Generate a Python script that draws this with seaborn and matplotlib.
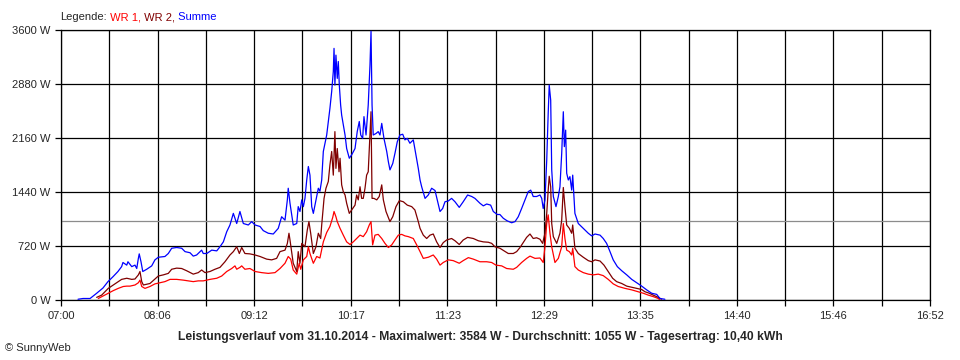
import numpy as np
import pandas as pd
import matplotlib
matplotlib.use("Agg")
import matplotlib.pyplot as plt
import seaborn as sns

# time in minutes after 07:00, power in W
summe_t = [11.6, 15.0, 19.8, 24.3, 28.6, 32.0, 35.4, 38.8, 41.3, 42.2,
           44.8, 45.6, 48.2, 50.4, 51.6, 52.7, 53.3, 54.5, 55.7, 58.4,
           61.8, 64.0, 66.3, 70.8, 73.1, 75.4, 78.8, 82.2, 84.5, 87.9,
           90.1, 92.4, 95.8, 96.9, 99.3, 102.7, 106.1, 108.3, 110.6, 112.9,
           115.1, 117.4, 119.7, 121.9, 124.2, 127.6, 129.9, 132.2, 135.6, 137.8,
           141.2, 144.6, 148.0, 150.3, 152.6, 154.2, 154.8, 156.0, 158.2, 160.6,
           161.6, 162.8, 164.0, 165.1, 166.2, 167.4, 168.5, 169.6, 170.8, 171.9,
           173.7, 175.3, 176.4, 177.6, 178.7, 181.0, 182.1, 183.2, 184.4, 185.5,
           186.0, 186.6, 187.3, 188.2, 188.9, 189.6, 190.5, 191.2, 192.3, 193.5,
           194.6, 196.4, 198.0, 200.3, 201.8, 203.2, 204.2, 205.5, 206.4, 207.8,
           209.3, 210.5, 211.2, 211.9, 212.7, 214.6, 216.1, 217.3, 218.5, 220.0,
           221.9, 223.0, 224.1, 226.0, 227.5, 229.1, 230.9, 232.8, 234.3, 235.9,
           237.7, 240.0, 241.8, 243.4, 244.6, 245.7, 248.0, 250.2, 252.5, 254.8,
           256.3, 258.2, 260.0, 261.6, 263.8, 266.1, 268.4, 271.3, 274.0, 277.0,
           279.8, 282.0, 285.4, 287.7, 290.0, 292.7, 294.5, 297.2, 299.0, 301.3,
           304.0, 307.0, 309.3, 311.5, 313.8, 316.1, 318.3, 320.0, 321.7, 324.0,
           326.3, 327.5, 328.5, 329.7, 330.9, 331.9, 332.6, 333.6, 334.3, 335.4,
           337.2, 338.8, 339.9, 341.1, 342.2, 342.9, 343.8, 344.5, 345.6, 346.7,
           347.9, 348.6, 350.1, 352.4, 355.8, 359.2, 361.5, 363.8, 367.2, 369.4,
           371.7, 374.0, 376.2, 379.0, 382.0, 385.4, 388.8, 392.2, 395.6, 399.0,
           402.4, 405.8, 408.0, 411.4]
summe_w = [10, 20, 20, 90, 160, 245, 310, 380, 445, 500,
           465, 510, 445, 465, 420, 555, 615, 510, 380, 410,
           455, 535, 570, 580, 620, 690, 700, 690, 645, 630,
           585, 600, 665, 620, 620, 665, 655, 710, 775, 910,
           1000, 1155, 1020, 1180, 1020, 1000, 1045, 1000, 980, 925,
           890, 880, 955, 1110, 1065, 1335, 1490, 1290, 1000, 1020,
           1245, 1180, 1335, 1245, 1355, 1600, 1780, 1665, 1245, 1155,
           1335, 1490, 1450, 1600, 1980, 2200, 2380, 2555, 2780, 3045,
           3355, 2865, 3265, 2955, 3180, 2865, 2600, 2465, 2335, 2200,
           2020, 1890, 1935, 2020, 2245, 2380, 2200, 2155, 2445, 2200,
           2600, 3135, 3584, 2600, 2200, 2220, 2245, 2200, 2355, 2155,
           1980, 1845, 1735, 1820, 1955, 2110, 2200, 2210, 2135, 2155,
           2090, 2135, 1935, 1755, 1600, 1510, 1355, 1400, 1490, 1460,
           1335, 1180, 1220, 1310, 1320, 1355, 1310, 1235, 1310, 1400,
           1380, 1355, 1290, 1255, 1280, 1265, 1180, 1140, 1140, 1090,
           1055, 1030, 1045, 1110, 1220, 1335, 1445, 1465, 1380, 1380,
           1400, 1355, 1220, 1335, 1865, 2490, 2865, 2665, 1735, 1380,
           1245, 1380, 1510, 1955, 2510, 2045, 2265, 1690, 1600, 1645,
           1465, 1665, 1155, 1020, 955, 890, 855, 880, 865, 820,
           755, 645, 535, 445, 390, 335, 275, 230, 185, 135,
           90, 75, 20, 10]

wr2_t = [24.3, 27.7, 32.2, 35.6, 39.0, 41.3, 44.8, 48.2, 50.4, 52.7,
         53.8, 55.0, 56.1, 60.6, 64.0, 66.3, 69.7, 73.1, 75.4, 78.8,
         82.2, 85.6, 90.1, 93.5, 95.8, 98.1, 101.5, 104.9, 108.3, 111.7,
         115.1, 117.4, 119.7, 121.5, 123.1, 125.3, 128.7, 132.2, 135.6, 140.1,
         143.5, 146.9, 149.2, 152.6, 154.2, 155.3, 156.0, 158.2, 160.6, 161.6,
         162.8, 164.0, 166.2, 167.8, 168.9, 170.1, 171.9, 173.7, 175.3, 176.9,
         177.6, 179.2, 180.5, 182.1, 183.2, 184.4, 185.5, 186.6, 187.3, 188.2,
         189.4, 190.1, 191.2, 192.3, 193.5, 194.6, 196.4, 198.0, 200.3, 201.4,
         202.5, 203.7, 204.8, 205.9, 207.1, 208.2, 209.3, 210.5, 211.2, 211.9,
         213.2, 215.1, 216.8, 218.5, 219.6, 221.4, 224.1, 226.0, 228.2, 230.5,
         233.2, 235.9, 238.9, 241.1, 243.4, 244.6, 246.8, 249.1, 251.4, 253.6,
         255.9, 258.2, 260.4, 262.7, 266.1, 268.4, 271.3, 274.0, 277.0, 280.9,
         284.3, 287.7, 291.1, 293.4, 295.6, 299.0, 301.8, 304.7, 308.1, 310.4,
         312.7, 314.9, 317.2, 319.5, 321.7, 324.0, 326.3, 328.1, 329.7, 330.9,
         331.9, 332.6, 333.6, 334.3, 335.4, 337.7, 339.9, 341.1, 342.2, 343.3,
         344.5, 346.3, 347.9, 348.6, 350.1, 352.4, 355.8, 359.2, 361.5, 363.8,
         367.2, 369.9, 372.8, 375.8, 378.5, 382.0, 385.4, 388.8, 392.2, 395.6,
         397.8, 400.1, 403.5, 406.9, 409.2]
wr2_w = [35, 65, 155, 200, 245, 275, 290, 275, 280, 335,
         380, 245, 200, 220, 280, 320, 335, 355, 410, 425,
         420, 390, 345, 365, 400, 365, 380, 410, 435, 510,
         600, 645, 710, 620, 700, 620, 615, 600, 580, 545,
         535, 555, 645, 665, 755, 890, 800, 490, 380, 645,
         490, 755, 710, 935, 1045, 890, 620, 710, 890, 820,
         1000, 1355, 1490, 1580, 1800, 1980, 1665, 2245, 1755, 2020,
         1710, 1890, 1535, 1445, 1400, 1290, 1155, 1200, 1265, 1400,
         1335, 1510, 1355, 1355, 1490, 1665, 1710, 2200, 2510, 1355,
         1355, 1335, 1380, 1535, 1335, 1180, 1045, 1110, 1245, 1325,
         1310, 1265, 1245, 1200, 1045, 955, 865, 820, 865, 880,
         775, 700, 765, 800, 820, 790, 740, 800, 835, 820,
         790, 775, 770, 755, 710, 690, 655, 620, 620, 645,
         700, 765, 835, 880, 820, 830, 810, 755, 890, 1155,
         1465, 1650, 1510, 1020, 845, 755, 890, 1065, 1500, 1245,
         1000, 955, 890, 1000, 690, 620, 570, 525, 510, 535,
         520, 465, 380, 290, 245, 220, 185, 170, 155, 140,
         110, 95, 65, 35, 10]

wr1_t = [25.4, 28.8, 32.2, 35.6, 39.0, 42.4, 44.8, 47.0, 50.4, 52.7,
         53.8, 55.0, 57.2, 60.6, 64.0, 67.4, 70.8, 74.3, 78.8, 83.3,
         86.7, 90.1, 93.5, 96.9, 101.5, 106.1, 109.5, 112.9, 116.3, 118.5,
         119.7, 121.9, 123.1, 125.3, 128.7, 132.2, 136.7, 141.2, 145.8, 149.2,
         152.6, 154.8, 156.5, 158.2, 160.6, 162.3, 163.3, 165.1, 167.4, 168.5,
         169.6, 171.9, 174.2, 176.4, 178.7, 181.0, 183.2, 185.1, 186.0, 187.3,
         188.2, 190.1, 192.3, 194.6, 196.9, 199.1, 201.4, 203.7, 205.9, 208.2,
         210.0, 211.2, 212.3, 213.9, 216.1, 218.5, 220.7, 223.0, 225.3, 227.5,
         229.8, 232.1, 234.3, 236.6, 240.0, 242.3, 244.6, 246.8, 250.2, 253.6,
         255.9, 258.2, 260.4, 263.8, 267.2, 271.3, 274.0, 277.5, 280.9, 285.4,
         290.0, 293.4, 296.3, 300.2, 303.6, 308.1, 310.4, 313.8, 317.2, 319.5,
         322.9, 326.3, 328.5, 329.7, 330.9, 331.9, 333.1, 334.3, 336.5, 338.8,
         341.1, 342.2, 343.3, 344.5, 346.3, 347.9, 348.6, 350.1, 352.4, 355.8,
         359.2, 362.6, 366.0, 369.4, 372.8, 376.2, 379.6, 384.2, 388.8, 393.3,
         396.7, 400.1, 403.5, 406.9, 408.0]
wr1_w = [20, 55, 90, 125, 155, 180, 185, 185, 200, 230,
         265, 180, 155, 180, 215, 230, 245, 275, 275, 265,
         255, 245, 255, 255, 275, 290, 320, 380, 420, 455,
         410, 435, 455, 410, 420, 380, 365, 355, 365, 420,
         490, 580, 545, 400, 345, 490, 410, 535, 580, 710,
         620, 490, 580, 560, 775, 900, 980, 1100, 1180, 1110,
         1045, 955, 865, 775, 740, 775, 820, 865, 845, 910,
         1000, 1045, 735, 865, 875, 820, 755, 700, 735, 800,
         865, 875, 855, 845, 820, 735, 645, 555, 570, 600,
         545, 465, 500, 535, 525, 490, 525, 565, 545, 510,
         510, 500, 465, 455, 420, 410, 435, 500, 555, 585,
         555, 560, 500, 710, 1020, 1135, 890, 710, 500, 555,
         710, 1020, 820, 665, 645, 600, 690, 445, 400, 365,
         345, 335, 345, 325, 275, 215, 180, 155, 135, 110,
         90, 65, 45, 20, 0]

x_labels = ["07:00", "08:06", "09:12", "10:17", "11:23",
            "12:29", "13:35", "14:40", "15:46", "16:52"]
y_ticks = [0, 720, 1440, 2160, 2880, 3600]
day_span = 592          # 07:00 .. 16:52 in minutes
avg_w = 1055
title = ("Leistungsverlauf vom 31.10.2014 - Maximalwert: 3584 W - "
         "Durchschnitt: 1055 W - Tagesertrag: 10,40 kWh")

colors = {"WR 1": "#ff0000", "WR 2": "#800000", "Summe": "#0000ff"}

df = pd.concat([
    pd.DataFrame({"t": wr1_t, "w": wr1_w, "serie": "WR 1"}),
    pd.DataFrame({"t": wr2_t, "w": wr2_w, "serie": "WR 2"}),
    pd.DataFrame({"t": summe_t, "w": summe_w, "serie": "Summe"}),
], ignore_index=True)

sns.set_style("white")
plt.rcParams['font.family'] = ['Liberation Sans', 'DejaVu Sans']
plt.rcParams['font.size'] = 8

fig = plt.figure(figsize=(9.6, 3.6), dpi=100)
ax = fig.add_axes([61 / 960, 60 / 360, 869 / 960, 270 / 360])

ax.axhline(avg_w, color='#8c8c8c', lw=0.9, zorder=1.5)
sns.lineplot(data=df, x="t", y="w", hue="serie", palette=colors,
             estimator=None, sort=False, lw=0.9, legend=False, ax=ax, zorder=3)

# axes, grid
ax.set_xlim(0, day_span)
ax.set_ylim(0, 3600)
xt = np.linspace(0, day_span, 19)
ax.set_xticks(xt)
ax.set_xticklabels([x_labels[i // 2] if i % 2 == 0 else "" for i in range(len(xt))])
ax.set_yticks(y_ticks)
ax.set_yticklabels([f"{v} W" for v in y_ticks])
ax.set_xlabel("")
ax.set_ylabel("")
ax.grid(True, color='black', lw=0.9)
ax.set_axisbelow(True)
for s in ax.spines.values():
    s.set_visible(True)
    s.set_color('black')
    s.set_linewidth(0.9)
ax.tick_params(axis='x', bottom=True, direction='out', length=4, width=0.9,
               color='black', pad=4, labelsize=8)
ax.tick_params(axis='y', left=True, direction='out', length=4.5, width=0.9,
               color='black', pad=3, labelsize=8)

# legend line at the top
t0 = fig.text(60 / 960, 1 - 17 / 360, "Legende:", va='center', ha='left', fontsize=8)
prev = t0
for name in ["WR 1,", "WR 2,", "Summe"]:
    key = name.rstrip(",")
    prev = ax.annotate(" " + name, xy=(1, 0), xycoords=prev, va='bottom', ha='left',
                       color=colors[key], fontsize=8, annotation_clip=False)

fig.text(480 / 960, 1 - 337 / 360, title, ha='center', va='center',
         fontsize=8.7, fontweight='bold')
fig.text(5 / 960, 1 - 348 / 360, "© SunnyWeb", ha='left', va='center', fontsize=8)

fig.savefig("out.png", dpi=100, facecolor='white')
